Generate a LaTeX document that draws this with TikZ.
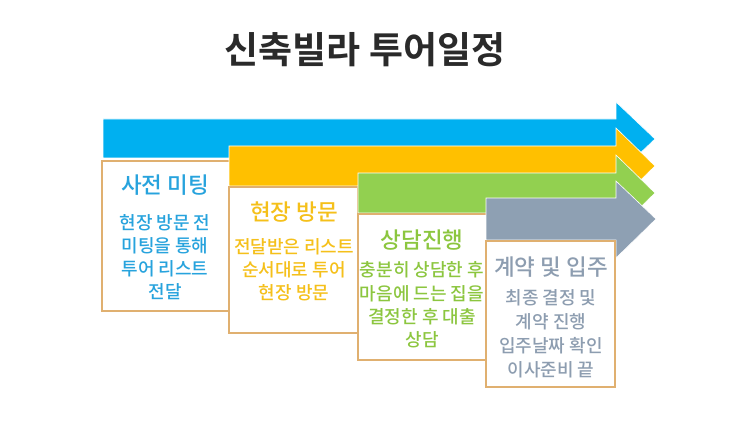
\documentclass[tikz,border=0pt]{standalone}
\usepackage{fontspec}
\setmainfont{Noto Sans CJK KR}
\newfontfamily\krbold{Noto Sans CJK KR Bold}
\newfontfamily\krmed{Noto Sans CJK KR Medium}
\definecolor{cblue}{HTML}{00B0F0}
\definecolor{corange}{HTML}{FFC000}
\definecolor{cgreen}{HTML}{92D050}
\definecolor{cgray}{HTML}{8EA0B3}
\definecolor{tblue}{HTML}{27A3DD}
\definecolor{torange}{HTML}{F5C01A}
\definecolor{tgreen}{HTML}{8CC63F}
\definecolor{tgray}{HTML}{8D9DB0}
\definecolor{border}{HTML}{E0B070}
\definecolor{titlec}{HTML}{2A2A2A}
\begin{document}
\begin{tikzpicture}[x=1pt,y=-1pt,
  arrowshape/.style={draw=white, line width=0.6pt},
  stagebox/.style={draw=border, line width=1.2pt, fill=white},
  stagetitle/.style={font=\krmed\fontsize{22.5}{26}\selectfont, anchor=center},
  stagebody/.style={align=center, anchor=center, inner sep=0pt}
]
\useasboundingbox (0,0) rectangle (743,422);
\node[font=\krbold\fontsize{37}{40}\selectfont, text=titlec] (title) at (365,50) {신축빌라 투어일정};
% blue
\fill[cblue, arrowshape] (103,119) -- (616,119) -- (616,102) -- (655,139) -- (616,176) -- (616,158) -- (103,158) -- cycle;
\draw[stagebox] (102,161) rectangle (230,311);
\node[stagetitle, text=tblue] (t1) at (165,185) {사전 미팅};
\node[stagebody, text=tblue, font=\krmed\fontsize{18}{23}\selectfont] (b1) at (165,257) {현장 방문 전\\미팅을 통해\\투어 리스트\\전달};
% orange
\fill[corange, arrowshape] (229,146) -- (616,146) -- (616,128) -- (655,166) -- (616,204) -- (616,186) -- (229,186) -- cycle;
\draw[stagebox] (229,187) rectangle (358,333);
\node[stagetitle, text=torange] (t2) at (294,212) {현장 방문};
\node[stagebody, text=torange, font=\krmed\fontsize{18}{23}\selectfont] (b2) at (294,270) {전달받은 리스트\\순서대로 투어\\현장 방문};
% green
\fill[cgreen, arrowshape] (358,173) -- (616,173) -- (616,155) -- (655,193) -- (616,231) -- (616,213) -- (358,213) -- cycle;
\draw[stagebox] (358,214) rectangle (487,360);
\node[stagetitle, text=tgreen] (t3) at (422,240) {상담진행};
\node[stagebody, text=tgreen, font=\krmed\fontsize{18}{23.3}\selectfont] (b3) at (422,305) {충분히 상담한 후\\마음에 드는 집을\\결정한 후 대출\\상담};
% gray
\fill[cgray, arrowshape] (486,198) -- (616,198) -- (616,181) -- (656,219) -- (616,258) -- (616,240) -- (486,240) -- cycle;
\draw[stagebox] (486,241) rectangle (615,387);
\node[stagetitle, text=tgray] (t4) at (551,267) {계약 및 입주};
\node[stagebody, text=tgray, font=\krmed\fontsize{18}{24}\selectfont] (b4) at (551,334) {최종 결정 및\\계약 진행\\입주날짜 확인\\이사준비 끝};
\end{tikzpicture}
\end{document}
